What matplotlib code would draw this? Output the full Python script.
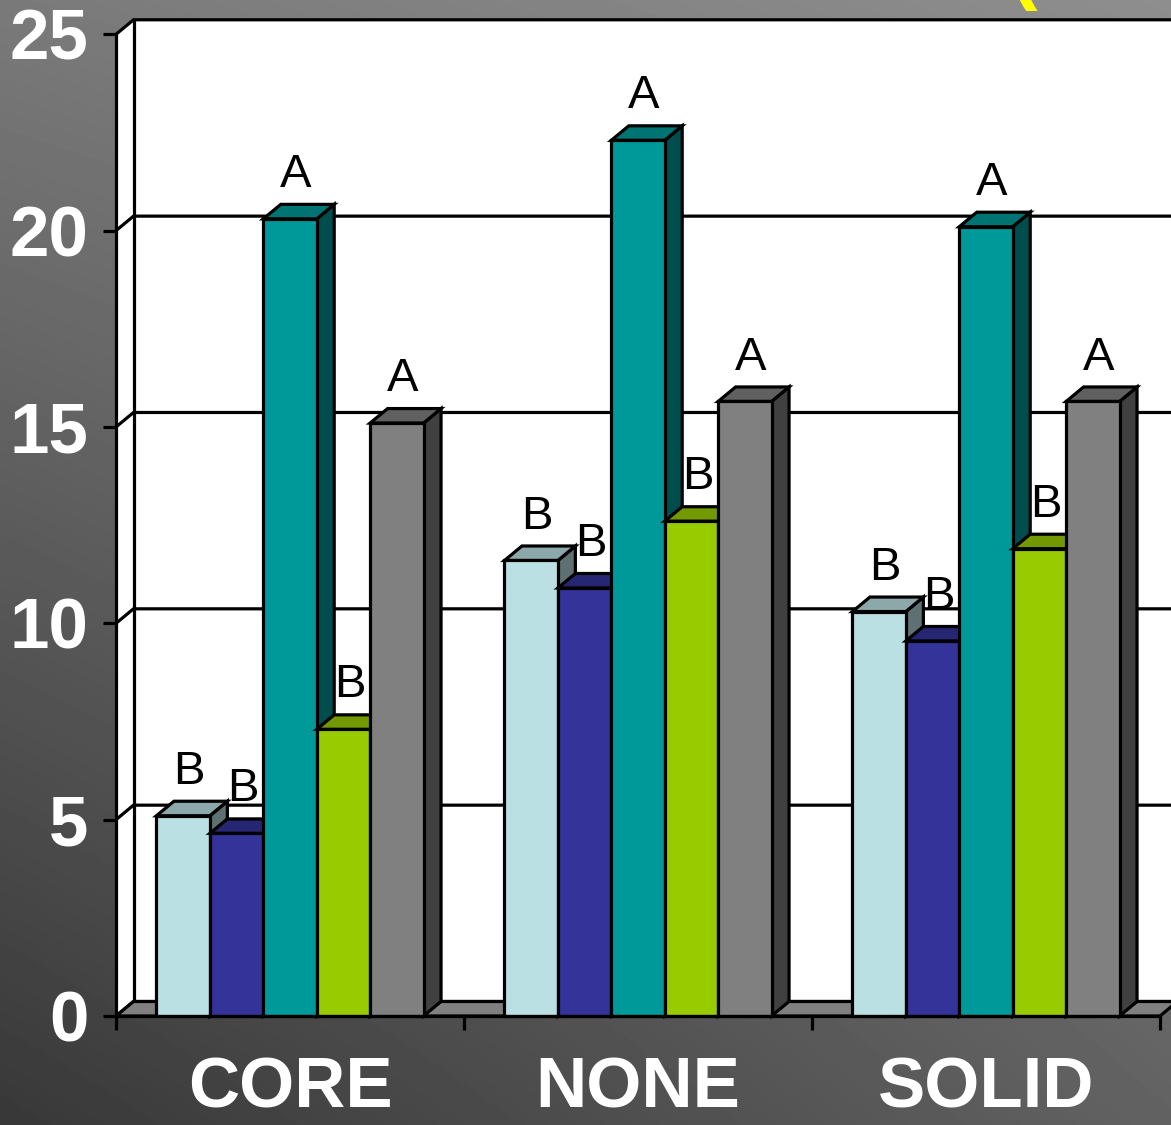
import numpy as np
import matplotlib
matplotlib.use("Agg")
import matplotlib.pyplot as plt
from matplotlib.patches import Polygon, Rectangle
from matplotlib.colors import to_rgb

plt.rcParams['font.family'] = ['Liberation Sans', 'DejaVu Sans']

# ---- data -----------------------------------------------------------------
categories = ["CORE", "NONE", "SOLID"]
y_ticks = [0, 5, 10, 15, 20, 25]

light_blue_vals = [5.1, 11.6, 10.3]
navy_vals = [4.65, 10.9, 9.55]
teal_vals = [20.3, 22.3, 20.1]
green_vals = [7.3, 12.6, 11.9]
gray_vals = [15.1, 15.65, 15.65]

light_blue_letters = ["B", "B", "B"]
navy_letters = ["B", "B", "B"]
teal_letters = ["A", "A", "A"]
green_letters = ["B", "B", "B"]
gray_letters = ["A", "A", "A"]

series = [
    (light_blue_vals, light_blue_letters, "#BBE0E3"),
    (navy_vals, navy_letters, "#333399"),
    (teal_vals, teal_letters, "#009999"),
    (green_vals, green_letters, "#99CC00"),
    (gray_vals, gray_letters, "#808080"),
]

# ---- figure & gradient backdrop ------------------------------------------
W, H, DPI = 1171, 1125, 100
fig = plt.figure(figsize=(W / DPI, H / DPI), dpi=DPI)

bg = fig.add_axes([0, 0, 1, 1])
bg.set_axis_off()
gx = np.linspace(0, 1, W)[None, :]
gy = np.linspace(0, 1, H)[:, None]
tl, tr, bl, br = 122, 142, 56, 98
shade_img = tl * (1 - gx) * (1 - gy) + tr * gx * (1 - gy) + bl * (1 - gx) * gy + br * gx * gy
bg.imshow(shade_img, cmap="gray", vmin=0, vmax=255, extent=[0, 1, 0, 1],
          aspect="auto", origin="upper", interpolation="bilinear")
bg.set_xlim(0, 1)
bg.set_ylim(0, 1)

# title glyph running off the top edge
fig.text(1010 / W, 1 + 6 / H, "(", color="#FFFF00", fontsize=60,
         fontweight="bold", ha="left", va="baseline")

# ---- main axes (front plane of the 3-D box) -------------------------------
X0, X1 = 116, 1160
Y0, Y1 = 1016, 34.3
ax = fig.add_axes([X0 / W, (H - Y0) / H, (X1 - X0) / W, (Y0 - Y1) / H])
ax.set_xlim(-0.5, len(categories) - 0.5)
ax.set_ylim(0, 25)
ax.patch.set_visible(False)

# depth offset of the box, expressed in data units
DX_PX, DY_PX = 17.5, 14.5
dxd = DX_PX / ((X1 - X0) / len(categories))
dyd = DY_PX / ((Y0 - Y1) / 25.0)

LW = 2.3
x_left, x_right = -0.5, len(categories) - 0.5
ymax = 25

# back wall
ax.add_patch(Rectangle((x_left + dxd, dyd), (x_right - x_left) + 0.5, ymax,
                       facecolor="white", edgecolor="none", zorder=1, clip_on=False))
# side wall
ax.add_patch(Polygon([(x_left, 0), (x_left + dxd, dyd), (x_left + dxd, ymax + dyd), (x_left, ymax)],
                     closed=True, facecolor="white", edgecolor="none", zorder=1, clip_on=False))
ax.plot([x_left + dxd, x_left + dxd], [dyd, ymax + dyd], color="black", lw=LW,
        zorder=2, clip_on=False)

# gridlines on side and back wall
for t in y_ticks:
    ax.plot([x_left, x_left + dxd, x_right + dxd + 0.5], [t, t + dyd, t + dyd],
            color="black", lw=LW, zorder=2, clip_on=False, solid_capstyle="butt")

# floor
ax.add_patch(Polygon([(x_left, 0), (x_right, 0), (x_right + dxd, dyd), (x_left + dxd, dyd)],
                     closed=True, facecolor="#808080", edgecolor="black", lw=LW,
                     zorder=3, clip_on=False, joinstyle="miter"))


def shade(color, f):
    r, g, b = to_rgb(color)
    return (r * f, g * f, b * f)


# ---- 3-D columns ----------------------------------------------------------
n = len(series)
bw = 0.1535
cat_pos = np.arange(len(categories))
for i, (vals, letters, color) in enumerate(series):
    xs = cat_pos + (i - (n - 1) / 2) * bw
    bars = ax.bar(xs, vals, width=bw, color=color, edgecolor="black", lw=LW,
                  clip_on=False)
    for j, (rect, v, letter) in enumerate(zip(bars, vals, letters)):
        z = 10 + j * 10 + i * 1.5
        rect.set_zorder(z + 0.3)
        rect.set_joinstyle("miter")
        xl = xs[j] - bw / 2
        xr = xs[j] + bw / 2
        side = Polygon([(xr, 0), (xr + dxd, dyd), (xr + dxd, v + dyd), (xr, v)],
                       closed=True, facecolor=shade(color, 0.5), edgecolor="black",
                       lw=LW, zorder=z + 0.1, clip_on=False, joinstyle="miter")
        top = Polygon([(xl, v), (xr, v), (xr + dxd, v + dyd), (xl + dxd, v + dyd)],
                      closed=True, facecolor=shade(color, 0.75), edgecolor="black",
                      lw=LW, zorder=z + 0.2, clip_on=False, joinstyle="miter")
        ax.add_patch(side)
        ax.add_patch(top)
        ax.annotate(letter, xy=(xs[j], v), xytext=(4.3, 23), textcoords="offset points",
                    ha="center", va="baseline", fontsize=34, color="black",
                    zorder=100, annotation_clip=False)

# ---- axes frame, ticks, labels -------------------------------------------
for name in ("top", "right"):
    ax.spines[name].set_visible(False)
for name in ("left", "bottom"):
    ax.spines[name].set_linewidth(LW)
    ax.spines[name].set_color("black")
    ax.spines[name].set_zorder(200)

ax.set_yticks(y_ticks)
ax.set_yticklabels([str(t) for t in y_ticks])
ax.tick_params(axis="y", direction="out", length=9.4, width=LW, color="black",
               pad=10.5, labelsize=51, labelcolor="white")
for lab in ax.get_yticklabels():
    lab.set_fontweight("bold")

ax.set_xticks(cat_pos)
ax.set_xticklabels(categories)
ax.set_xticks(np.arange(len(categories) + 1) - 0.5, minor=True)
ax.tick_params(axis="x", which="major", length=0, pad=29, labelsize=51,
               labelcolor="white")
ax.tick_params(axis="x", which="minor", direction="out", length=10, width=LW,
               color="black")
for lab in ax.get_xticklabels():
    lab.set_fontweight("bold")

fig.savefig("out.png", dpi=DPI)
